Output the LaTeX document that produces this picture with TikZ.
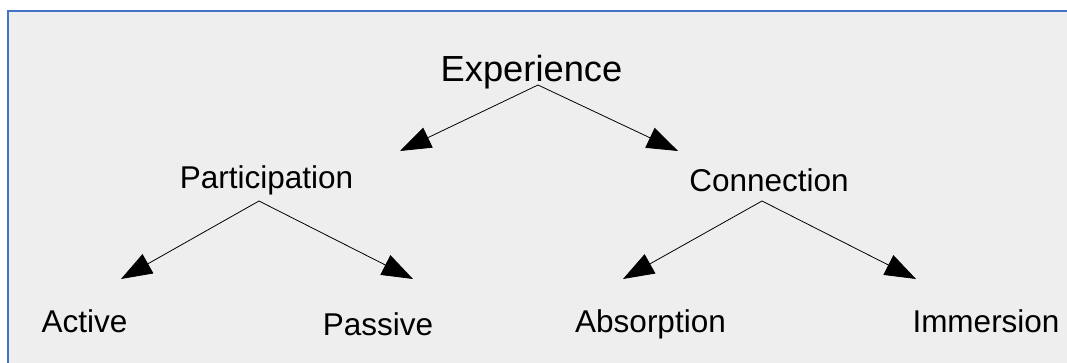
\documentclass[tikz,border=0pt]{standalone}
\usepackage{fontspec}
\setmainfont{Liberation Sans}
\usetikzlibrary{arrows.meta}
\definecolor{bgfill}{RGB}{238,238,238}
\definecolor{frameblue}{RGB}{68,114,196}
\tikzset{
  big/.style={anchor=base, inner sep=0pt, font=\fontsize{36.3}{43}\selectfont},
  lbl/.style={anchor=base, inner sep=0pt, font=\fontsize{31.5}{38}\selectfont},
  conn/.style={line width=0.8pt, -{Triangle[length=31pt,width=22pt]}}
}
\begin{document}
\begin{tikzpicture}[x=1pt,y=-1pt]
\useasboundingbox (0,0) rectangle (1067,363);
\fill[white] (0,0) rectangle (1067,363);
\fill[bgfill] (7.8,11) rectangle (1067,363);
\draw[line width=1.5pt, draw=frameblue] (7.8,363) -- (7.8,11) -- (1067,11);
% nodes
\node[big] (exp) at (531.5,82) {Experience};
\node[lbl] (par) at (266.5,189) {Participation};
\node[lbl] (con) at (769,192) {Connection};
\node[lbl] (act) at (84.5,332) {Active};
\node[lbl] (pas) at (378,335) {Passive};
\node[lbl] (abs) at (650.5,332) {Absorption};
\node[lbl] (imm) at (986,332) {Immersion};
% connector anchors
\coordinate (expA) at (538,85);
\coordinate (parA) at (259,201);
\coordinate (conA) at (762,201);
\coordinate (toPar) at (400,151);
\coordinate (toCon) at (678,151);
\coordinate (toAct) at (121,279);
\coordinate (toPas) at (413,279);
\coordinate (toAbs) at (623,279);
\coordinate (toImm) at (916,279);
% connectors
\draw[conn] (expA) -- (toPar);
\draw[conn] (expA) -- (toCon);
\draw[conn] (parA) -- (toAct);
\draw[conn] (parA) -- (toPas);
\draw[conn] (conA) -- (toAbs);
\draw[conn] (conA) -- (toImm);
\end{tikzpicture}
\end{document}
